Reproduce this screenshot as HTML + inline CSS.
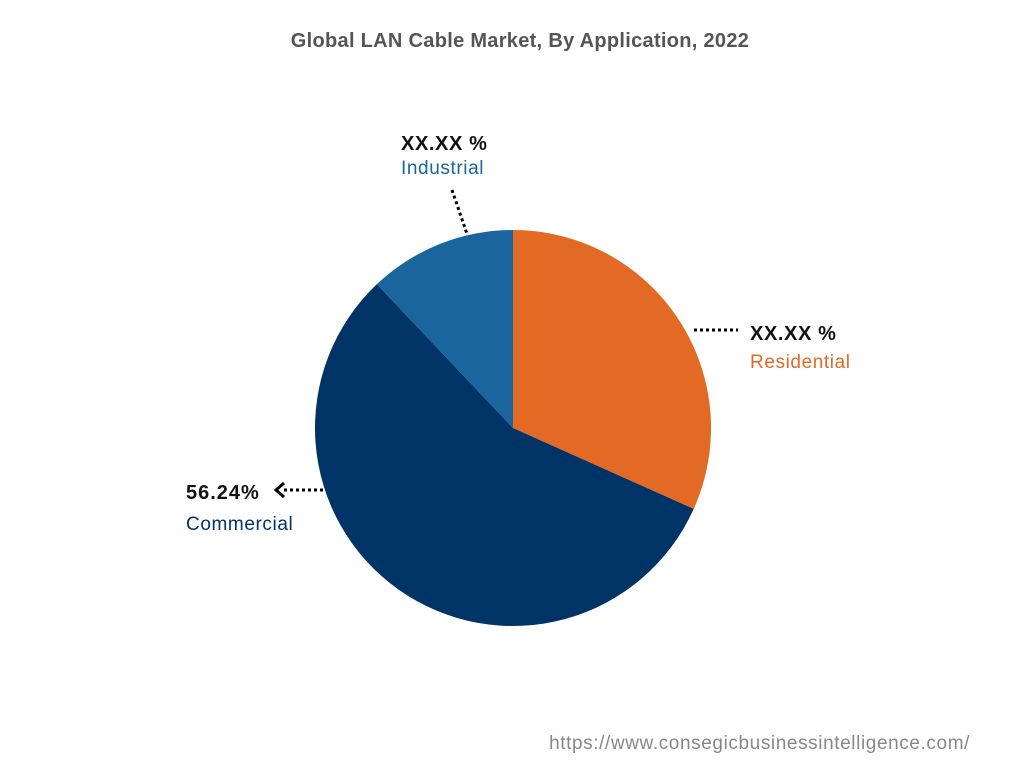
<!DOCTYPE html>
<html><head><meta charset="utf-8"><style>
body{margin:0;width:1024px;height:768px;background:#fff;font-family:"Liberation Sans",sans-serif;overflow:hidden}
</style></head><body>
<svg id="chart" width="1024" height="768">
<text x="520" y="47" text-anchor="middle" font-size="20" font-weight="bold" fill="#555" letter-spacing="0.3">Global LAN Cable Market, By Application, 2022</text>
<g id="slices"></g>
<line x1="694" y1="330" x2="738" y2="330" stroke="#000" stroke-width="3" stroke-dasharray="3,3"/>
<text x="750" y="340" font-size="20" font-weight="bold" fill="#111" letter-spacing="0.6">XX.XX %</text>
<text x="750" y="368" font-size="19" fill="#E36A25" letter-spacing="0.6">Residential</text>
<line x1="452" y1="190" x2="467" y2="234" stroke="#000" stroke-width="3" stroke-dasharray="3,3"/>
<text x="401" y="150" font-size="20" font-weight="bold" fill="#111" letter-spacing="0.6">XX.XX %</text>
<text x="401" y="174" font-size="19" fill="#1A65A0" letter-spacing="0.6">Industrial</text>
<line x1="284" y1="490" x2="324" y2="490" stroke="#000" stroke-width="3" stroke-dasharray="3,3"/>
<path d="M284 483 L276 490 L284 497" fill="none" stroke="#000" stroke-width="3"/>
<text x="186" y="499" font-size="20" font-weight="bold" fill="#111" letter-spacing="1">56.24%</text>
<text x="186" y="530" font-size="19" fill="#003366" letter-spacing="0.6">Commercial</text>
<text x="970" y="749" text-anchor="end" font-size="19" fill="#888" letter-spacing="0.6">https://www.consegicbusinessintelligence.com/</text>
</svg>
<script>
const categories=["Residential","Commercial","Industrial"];
const values=[31.70,56.24,12.06];
const colors=["#E36A25","#003366","#1A659E"];
const cx=513,cy=428,r=198;
const g=document.getElementById('slices');
const total=values.reduce((a,b)=>a+b,0);
let a0=0;
function pt(a){return [cx+r*Math.sin(a),cy-r*Math.cos(a)];}
values.forEach((v,i)=>{
  const a1=a0+v/total*2*Math.PI;
  const p0=pt(a0),p1=pt(a1);
  const large=(a1-a0)>Math.PI?1:0;
  const p=document.createElementNS('http://www.w3.org/2000/svg','path');
  p.setAttribute('d',`M${cx} ${cy} L${p0[0]} ${p0[1]} A${r} ${r} 0 ${large} 1 ${p1[0]} ${p1[1]} Z`);
  p.setAttribute('fill',colors[i]);
  
  
  g.appendChild(p);
  a0=a1;
});
</script>
</body></html>
